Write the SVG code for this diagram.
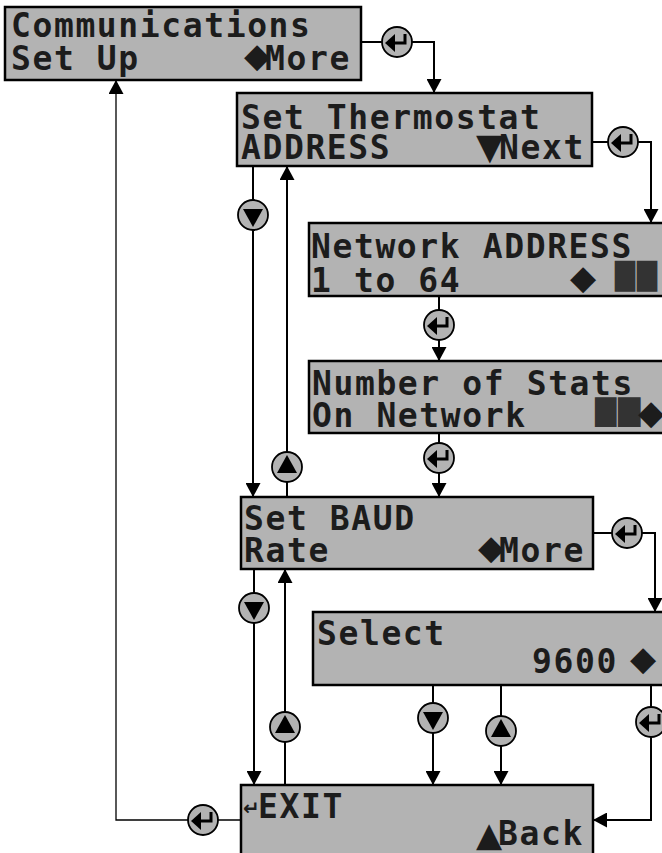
<svg xmlns="http://www.w3.org/2000/svg" width="662" height="853" viewBox="0 0 662 853">
<style>
.box{fill:#b3b3b3;stroke:#000;stroke-width:2.5}
.lcd{font-family:"DejaVu Sans Mono","Liberation Mono",monospace;font-size:33px;font-weight:bold;fill:#1c1c1c;letter-spacing:1.6px;white-space:pre}
.sym{font-family:"DejaVu Sans","DejaVu Sans Mono",sans-serif;letter-spacing:0}
.dia{font-family:"DejaVu Sans","DejaVu Sans Mono",sans-serif;font-size:34px;letter-spacing:0}
.blk{font-family:"DejaVu Sans Mono",monospace;font-weight:normal;fill:#333;letter-spacing:0}
.btn{fill:#b3b3b3;stroke:#000;stroke-width:1.8}
.ln{fill:none;stroke:#000;stroke-width:2}
.thin{fill:none;stroke:#000;stroke-width:1.3}
</style>
<defs>
<marker id="ah" markerUnits="userSpaceOnUse" markerWidth="15" markerHeight="15" refX="14" refY="7.5" orient="auto"><path d="M0,0 L14,7.5 L0,15 z" fill="#000"/></marker>
<g id="btn-enter"><circle r="15" class="btn"/><path d="M-12,1 L-2,-8 L-2,10 z" fill="#000"/><path d="M-3,1 H8 V-8" fill="none" stroke="#000" stroke-width="3"/></g>
<g id="btn-down"><circle r="15" class="btn"/><path d="M-10,-6 L10,-6 L0,12 z" fill="#000"/></g>
<g id="btn-up"><circle r="15" class="btn"/><path d="M-10,6 L10,6 L0,-12 z" fill="#000"/></g>
</defs>
<rect width="662" height="853" fill="#fff"/>
<g id="connectors">
<path class="ln" d="M361,42 H434 V93" marker-end="url(#ah)"/>
<path class="ln" d="M592,142 H651 V223" marker-end="url(#ah)"/>
<path class="ln" d="M439,296 V361" marker-end="url(#ah)"/>
<path class="ln" d="M439,433 V497" marker-end="url(#ah)"/>
<path class="ln" d="M253,166 V497" marker-end="url(#ah)"/>
<path class="ln" d="M287,497 V166" marker-end="url(#ah)"/>
<path class="ln" d="M593,533 H655 V612" marker-end="url(#ah)"/>
<path class="ln" d="M254,569 V785" marker-end="url(#ah)"/>
<path class="ln" d="M285,785 V569" marker-end="url(#ah)"/>
<path class="ln" d="M433,685 V785" marker-end="url(#ah)"/>
<path class="ln" d="M501,685 V785" marker-end="url(#ah)"/>
<path class="ln" d="M651,685 V820 H593" marker-end="url(#ah)"/>
<path class="thin" d="M241,820 H116 V80" marker-end="url(#ah)"/>
<use href="#btn-enter" x="397" y="42"/>
<use href="#btn-enter" x="623" y="142"/>
<use href="#btn-enter" x="439" y="325"/>
<use href="#btn-enter" x="439" y="458"/>
<use href="#btn-down" x="253" y="215"/>
<use href="#btn-up" x="287" y="467"/>
<use href="#btn-enter" x="627" y="533"/>
<use href="#btn-down" x="254" y="608"/>
<use href="#btn-up" x="285" y="727"/>
<use href="#btn-down" x="433" y="718"/>
<use href="#btn-up" x="501" y="731"/>
<use href="#btn-enter" x="651" y="722"/>
<use href="#btn-enter" x="203" y="820"/>
</g>
<g id="comm-setup">
<rect class="box" x="5" y="7" width="356" height="73"/>
<text class="lcd"><tspan x="11" y="37">Communications</tspan><tspan x="11" y="70">Set Up</tspan><tspan class="dia" x="244" y="67">◆</tspan><tspan x="265" y="70">More</tspan></text>
</g>
<g id="set-address">
<rect class="box" x="237" y="93" width="355" height="73"/>
<text class="lcd"><tspan x="241" y="129">Set Thermostat</tspan><tspan x="241" y="159">ADDRESS</tspan><tspan class="sym" x="476" y="159" font-size="36">▼</tspan><tspan x="499" y="159">Next</tspan></text>
</g>
<g id="network-address">
<rect class="box" x="309" y="223" width="360" height="73"/>
<text class="lcd"><tspan x="311" y="258">Network ADDRESS</tspan><tspan x="311" y="292">1 to 64</tspan><tspan class="dia" x="570" y="289">◆</tspan><tspan class="blk" x="615" y="285" font-size="26" textLength="20" lengthAdjust="spacingAndGlyphs">█</tspan><tspan class="blk" x="637" y="285" font-size="26" textLength="20" lengthAdjust="spacingAndGlyphs">█</tspan></text>
</g>
<g id="num-stats">
<rect class="box" x="309" y="361" width="360" height="72"/>
<text class="lcd"><tspan x="312" y="395">Number of Stats</tspan><tspan x="312" y="427">On Network</tspan><tspan class="blk" x="595" y="421" font-size="25" textLength="21" lengthAdjust="spacingAndGlyphs">█</tspan><tspan class="blk" x="618" y="421" font-size="25" textLength="22" lengthAdjust="spacingAndGlyphs">█</tspan><tspan class="dia" x="638" y="424">◆</tspan></text>
</g>
<g id="set-baud">
<rect class="box" x="241" y="497" width="352" height="72"/>
<text class="lcd"><tspan x="244" y="530">Set BAUD</tspan><tspan x="244" y="562">Rate</tspan><tspan class="dia" x="478" y="559">◆</tspan><tspan x="499" y="562">More</tspan></text>
</g>
<g id="select-baud">
<rect class="box" x="313" y="612" width="360" height="73"/>
<text class="lcd"><tspan x="317" y="645">Select</tspan><tspan x="532" y="673">9600</tspan><tspan class="dia" x="630" y="670">◆</tspan></text>
</g>
<g id="exit-back">
<rect class="box" x="241" y="785" width="352" height="75"/>
<text class="lcd"><tspan class="sym" x="243" y="815" font-size="20">↵</tspan><tspan x="258" y="818">EXIT</tspan><tspan class="sym" x="476" y="846" font-size="34">▲</tspan><tspan x="498" y="845">Back</tspan></text>
</g>
</svg>
